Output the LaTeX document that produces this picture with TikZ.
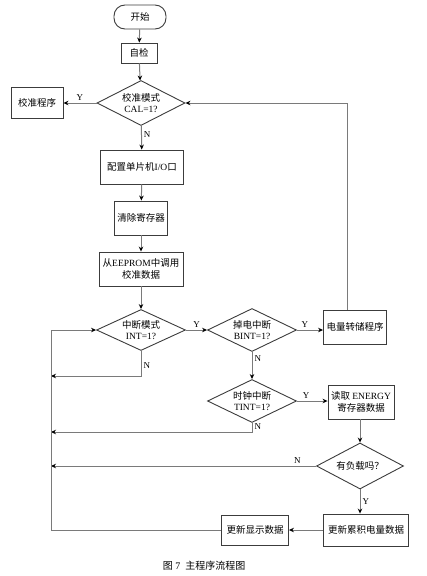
\documentclass[tikz,border=0pt]{standalone}
\usepackage{fontspec}
\setmainfont{Liberation Serif}
\newfontfamily\cjk{Noto Sans CJK SC}
\usetikzlibrary{arrows.meta, positioning, shapes.geometric}
\definecolor{linegray}{HTML}{7A7A7A}
\definecolor{edgegray}{HTML}{3C3C3C}
\tikzstyle{arr}=[-{Stealth[length=5pt,width=4.5pt,black]},line width=1pt,color=linegray]
\tikzstyle{box}=[rectangle,draw=edgegray,line width=0.9pt,inner sep=1pt,align=center,font=\fontsize{9.5}{12}\selectfont]
\tikzstyle{dec}=[diamond,draw=edgegray,line width=0.9pt,aspect=2,inner sep=0pt,align=center,font=\fontsize{9.5}{11}\selectfont]
\tikzstyle{term}=[rectangle,rounded corners=11pt,draw=edgegray,line width=0.9pt,font=\fontsize{9.5}{12}\selectfont]
\tikzstyle{lbl}=[font=\fontsize{9}{10}\selectfont,inner sep=2pt,text=black]

\begin{document}
\begin{tikzpicture}[x=1pt,y=-1pt]
  \useasboundingbox (0,0) rectangle (426,576);
  % main column
  \node[term,minimum width=52pt,minimum height=24pt] (start) at (140,17) {\cjk 开始};
  \node[box,minimum width=36pt,minimum height=20pt] (self) at (139,53) {\cjk 自检};
  \node[dec,minimum width=88pt,minimum height=45pt] (cal) at (141,103) {{\cjk 校准模式}\\CAL=1?};
  \node[box,minimum width=52pt,minimum height=31pt] (calp) at (37,103) {\cjk 校准程序};
  \node[box,minimum width=83pt,minimum height=34pt] (cfg) at (142,167) {{\cjk 配置单片机}I/O{\cjk 口}};
  \node[box,minimum width=53pt,minimum height=34pt] (clr) at (141,218) {\cjk 清除寄存器};
  \node[box,minimum width=84pt,minimum height=34pt] (eep) at (141,269) {{\cjk 从}EEPROM{\cjk 中调用}\\{\cjk 校准数据}};
  % interrupt checks
  \node[dec,minimum width=89pt,minimum height=41pt] (int) at (141,330) {{\cjk 中断模式}\\INT=1?};
  \node[dec,minimum width=89pt,minimum height=43pt] (bint) at (252,330) {{\cjk 掉电中断}\\BINT=1?};
  \node[box,minimum width=63pt,minimum height=34pt] (dump) at (355,327) {\cjk 电量转储程序};
  \node[dec,minimum width=89pt,minimum height=43pt] (tint) at (252,401) {{\cjk 时钟中断}\\TINT=1?};
  \node[box,minimum width=66pt,minimum height=34pt] (read) at (361,402) {{\cjk 读取} ENERGY\\{\cjk 寄存器数据}};
  \node[dec,minimum width=87pt,minimum height=46pt] (load) at (360,466) {\cjk 有负载吗？};
  \node[box,minimum width=85pt,minimum height=32pt] (acc) at (366,530) {\cjk 更新累积电量数据};
  \node[box,minimum width=67pt,minimum height=30pt] (disp) at (255,530) {\cjk 更新显示数据};
  \node[font=\fontsize{10}{12}\selectfont] (cap) at (204,566) {{\cjk 图} 7\ \ {\cjk 主程序流程图}};
  % loop line
  \coordinate (n1) at (51,376);
  \coordinate (n2) at (51,432);
  \coordinate (n3) at (51,466);
  \coordinate (bot) at (51,530);
  % connectors
  \draw[arr] (start) -- (self);
  \draw[arr] (self) -- (cal);
  \draw[arr] (cal) -- node[lbl,above]{Y} (calp);
  \draw[arr] (cal) -- node[lbl,right,pos=0.35]{N} (cfg);
  \draw[arr] (cfg) -- (clr);
  \draw[arr] (clr) -- (eep);
  \draw[arr] (eep) -- (int);
  \draw[arr] (int) -- node[lbl,above]{Y} (bint);
  \draw[arr] (bint) -- node[lbl,above,pos=0.3]{Y} (dump.west |- bint);
  \draw[arr] (bint) -- node[lbl,right,pos=0.25]{N} (tint);
  \draw[arr] (tint) -- node[lbl,above,pos=0.3]{Y} (read.west |- tint);
  \draw[arr] (read.south -| load) -- (load);
  \draw[arr] (load) -- node[lbl,right]{Y} (load |- acc.north);
  \draw[arr] (acc) -- (disp);
  \draw[arr] ([xshift=-8pt]dump.north) |- (cal.east);
  \draw[arr] (int.south) |- node[lbl,right,pos=0.3]{N} (n1);
  \draw[arr] (tint.south) |- node[lbl,right,pos=0.2]{N} (n2);
  \draw[arr] (load.west) -- node[lbl,above,pos=0.07]{N} (n3);
  \draw[arr] (disp.west) -- (bot) |- (int.west);
\end{tikzpicture}
\end{document}
